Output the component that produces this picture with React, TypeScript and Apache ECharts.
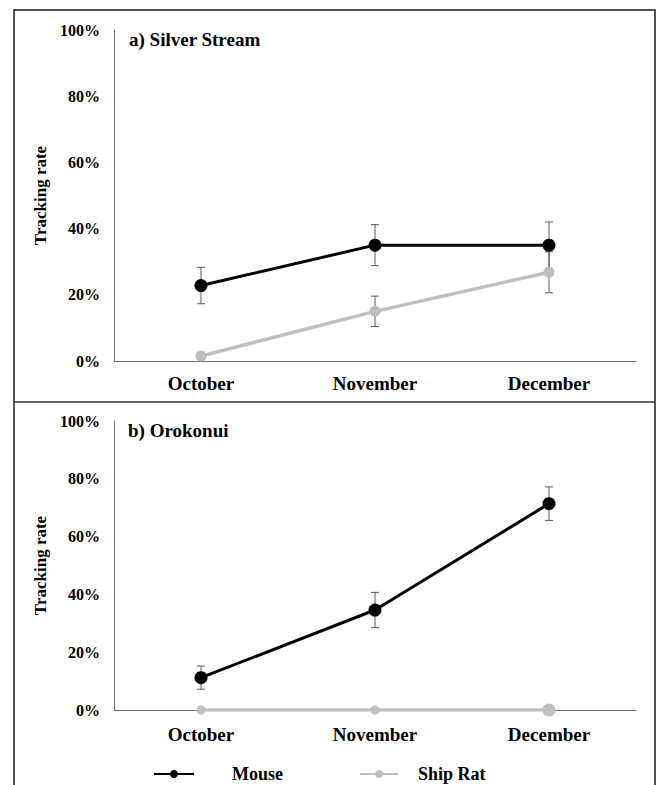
import React, { useEffect, useRef } from "react";
import * as echarts from "echarts";

const months = ["October", "November", "December"];
const yTicks = [0, 20, 40, 60, 80, 100];

// Panel a) Silver Stream
const mouseA = [22.8, 35.0, 35.0];
const mouseAErr = [5.5, 6.2, 7.0];
const ratA = [1.5, 15.0, 26.8];
const ratAErr = [1.0, 4.6, 6.2];

// Panel b) Orokonui
const mouseB = [11.2, 34.6, 71.4];
const mouseBErr = [4.0, 6.1, 5.8];
const ratB = [0, 0, 0];
const ratBSizes = [9, 9, 13];

const FONT = "'Liberation Serif', 'Times New Roman', serif";
const MOUSE_COLOR = "#000000";
const RAT_COLOR = "#bfbfbf";
const ERR_COLOR = "#595959";

function errData(vals: number[], errs: number[]) {
  return vals.map((v, i) => [i, v - errs[i], v + errs[i]]);
}

function errorSeries(name: string, vals: number[], errs: number[], axisIdx: number) {
  return {
    type: "custom",
    name,
    xAxisIndex: axisIdx,
    yAxisIndex: axisIdx,
    z: 1,
    silent: true,
    encode: { x: 0, y: [1, 2] },
    data: errData(vals, errs),
    renderItem: (params: any, api: any) => {
      const x = api.value(0);
      const lo = api.value(1);
      const hi = api.value(2);
      const top = api.coord([x, hi]);
      const bot = api.coord([x, lo]);
      const hw = 4;
      const style = { stroke: ERR_COLOR, lineWidth: 1 };
      return {
        type: "group",
        children: [
          { type: "line", shape: { x1: top[0], y1: top[1], x2: bot[0], y2: bot[1] }, style },
          { type: "line", shape: { x1: top[0] - hw, y1: top[1], x2: top[0] + hw, y2: top[1] }, style },
          { type: "line", shape: { x1: bot[0] - hw, y1: bot[1], x2: bot[0] + hw, y2: bot[1] }, style },
        ],
      };
    },
  };
}

function xAxis(gridIndex: number, margin: number) {
  return {
    type: "category",
    gridIndex,
    data: months,
    boundaryGap: true,
    axisLine: { show: true, lineStyle: { color: "#6f6f6f", width: 1 } },
    axisTick: { show: false },
    axisLabel: {
      margin,
      fontFamily: FONT,
      fontWeight: "bold",
      fontSize: 19,
      color: "#000",
    },
    splitLine: { show: false },
  };
}

function yAxis(gridIndex: number) {
  return {
    type: "value",
    gridIndex,
    min: yTicks[0],
    max: yTicks[yTicks.length - 1],
    interval: 20,
    name: "Tracking rate",
    nameLocation: "middle",
    nameGap: 65,
    nameRotate: 90,
    nameTextStyle: {
      fontFamily: FONT,
      fontWeight: "bold",
      fontSize: 17,
      color: "#000",
    },
    axisLine: { show: true, lineStyle: { color: "#6f6f6f", width: 1 } },
    axisTick: { show: false },
    splitLine: { show: false },
    axisLabel: {
      margin: 14,
      formatter: "{value}%",
      fontFamily: FONT,
      fontWeight: "bold",
      fontSize: 16,
      color: "#000",
    },
  };
}

export default function App() {
  const ref = useRef<HTMLDivElement>(null);

  useEffect(() => {
    if (!ref.current) return;
    const chart = echarts.init(ref.current, null, { renderer: "svg" });
    const option: any = {
      animation: false,
      backgroundColor: "#ffffff",
      title: [
        {
          text: "a) Silver Stream",
          left: 129,
          top: 30,
          padding: 0,
          textStyle: { fontFamily: FONT, fontWeight: "bold", fontSize: 19, color: "#000" },
        },
        {
          text: "b) Orokonui",
          left: 128,
          top: 421,
          padding: 0,
          textStyle: { fontFamily: FONT, fontWeight: "bold", fontSize: 19, color: "#000" },
        },
      ],
      legend: [
        {
          data: ["Mouse"],
          left: 153,
          top: 765,
          padding: 0,
          itemWidth: 40,
          itemHeight: 10,
          textStyle: {
            fontFamily: FONT,
            fontWeight: "bold",
            fontSize: 18,
            color: "#000",
            padding: [0, 0, 0, 33],
          },
        },
        {
          data: ["Ship Rat"],
          left: 359,
          top: 765,
          padding: 0,
          itemWidth: 38,
          itemHeight: 10,
          textStyle: {
            fontFamily: FONT,
            fontWeight: "bold",
            fontSize: 18,
            color: "#000",
            padding: [0, 0, 0, 15],
          },
        },
      ],
      grid: [
        { left: 114, top: 30, width: 522, height: 331 },
        { left: 114, top: 421, width: 522, height: 289 },
      ],
      xAxis: [xAxis(0, 13), xAxis(1, 15)],
      yAxis: [yAxis(0), yAxis(1)],
      graphic: [
        {
          type: "rect",
          shape: { x: 14, y: 10, width: 641, height: 800 },
          style: { fill: "none", stroke: "#1a1a1a", lineWidth: 1.5 },
          silent: true,
        },
        {
          type: "line",
          shape: { x1: 14, y1: 402, x2: 655, y2: 402 },
          style: { stroke: "#333", lineWidth: 1.5 },
          silent: true,
        },
      ],
      series: [
        errorSeries("errRatA", ratA, ratAErr, 0),
        errorSeries("errMouseA", mouseA, mouseAErr, 0),
        errorSeries("errMouseB", mouseB, mouseBErr, 1),
        {
          type: "line",
          name: "Ship Rat",
          xAxisIndex: 0,
          yAxisIndex: 0,
          data: ratA,
          z: 2,
          symbol: "circle",
          symbolSize: 11,
          lineStyle: { color: RAT_COLOR, width: 3.5 },
          itemStyle: { color: RAT_COLOR },
        },
        {
          type: "line",
          name: "Mouse",
          xAxisIndex: 0,
          yAxisIndex: 0,
          data: mouseA,
          z: 3,
          symbol: "circle",
          symbolSize: 13,
          lineStyle: { color: MOUSE_COLOR, width: 3 },
          itemStyle: { color: MOUSE_COLOR },
        },
        {
          type: "line",
          name: "Ship Rat",
          xAxisIndex: 1,
          yAxisIndex: 1,
          data: ratB.map((v, i) => ({ value: v, symbolSize: ratBSizes[i] })),
          z: 2,
          symbol: "circle",
          symbolSize: 9,
          lineStyle: { color: RAT_COLOR, width: 3.5 },
          itemStyle: { color: RAT_COLOR },
        },
        {
          type: "line",
          name: "Mouse",
          xAxisIndex: 1,
          yAxisIndex: 1,
          data: mouseB,
          z: 3,
          symbol: "circle",
          symbolSize: 13,
          lineStyle: { color: MOUSE_COLOR, width: 3 },
          itemStyle: { color: MOUSE_COLOR },
        },
      ],
    };
    chart.setOption(option);
    return () => {
      chart.dispose();
    };
  }, []);

  return (
    <div
      ref={ref}
      style={{ position: "fixed", left: 0, top: 0, width: 659, height: 785, background: "#fff" }}
    />
  );
}
